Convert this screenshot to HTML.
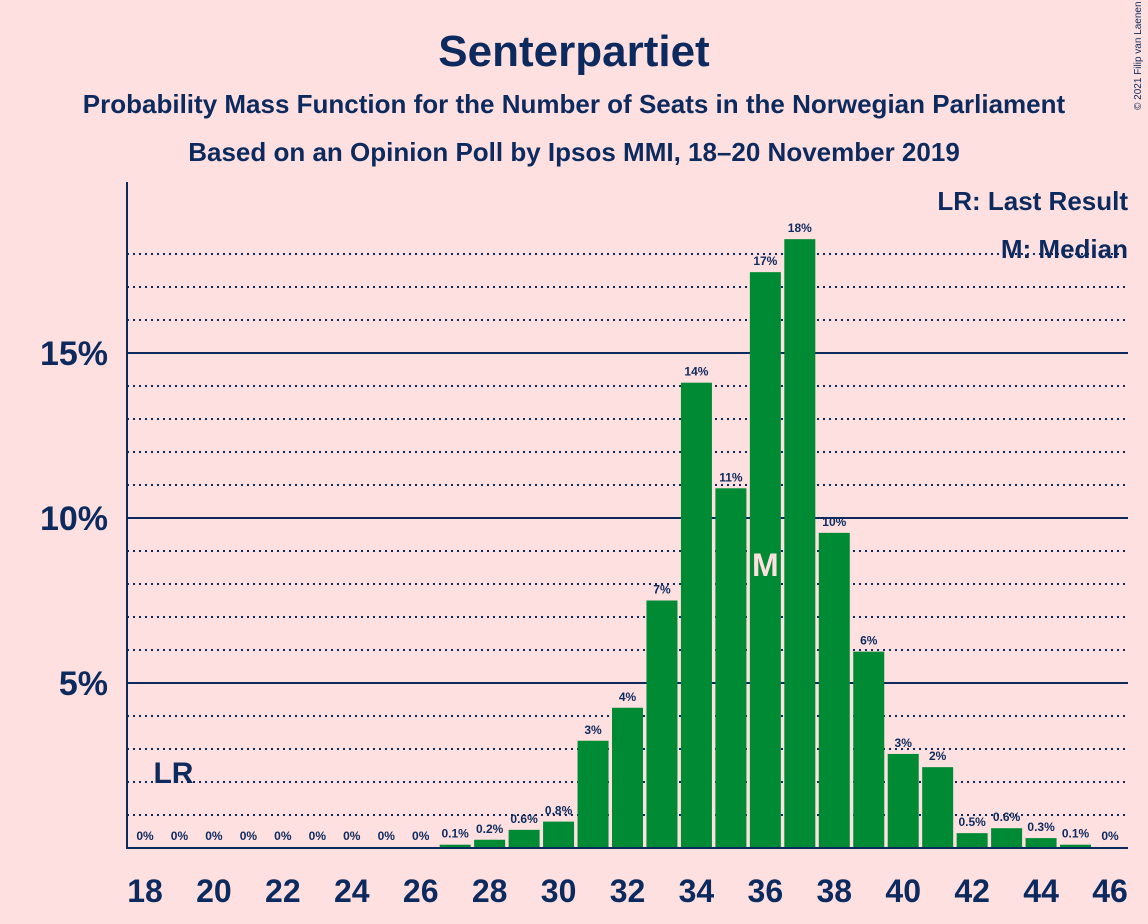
<!DOCTYPE html>
<html><head><meta charset="utf-8"><style>
body{margin:0;background:#FFE0E0;}
svg{display:block;font-family:"Liberation Sans",sans-serif;}
</style></head><body>
<svg id="c" width="1148" height="924">
<rect width="1148" height="924" fill="#FFE0E0"/>
<text x="574" y="66" text-anchor="middle" font-size="44" font-weight="bold" fill="#0C2A5E">Senterpartiet</text>
<text x="574" y="113" text-anchor="middle" font-size="26" font-weight="bold" fill="#0C2A5E">Probability Mass Function for the Number of Seats in the Norwegian Parliament</text>
<text x="574" y="161" text-anchor="middle" font-size="26" font-weight="bold" fill="#0C2A5E">Based on an Opinion Poll by Ipsos MMI, 18–20 November 2019</text>
<text x="1141" y="110" font-size="10" fill="#0C2A5E" transform="rotate(-90 1141 110)">© 2021 Filip van Laenen</text>
<g id="grid"></g>
<g id="bars"></g>
<line x1="127" y1="182" x2="127" y2="849" stroke="#0C2A5E" stroke-width="2"/>
<line x1="127" y1="848" x2="1128" y2="848" stroke="#0C2A5E" stroke-width="2"/>
<g id="ticks"></g>
<text x="1128" y="210" text-anchor="end" font-size="26" font-weight="bold" fill="#0C2A5E">LR: Last Result</text>
<text x="1128" y="258" text-anchor="end" font-size="26" font-weight="bold" fill="#0C2A5E">M: Median</text>
</svg>
<script>
const seats=[18,19,20,21,22,23,24,25,26,27,28,29,30,31,32,33,34,35,36,37,38,39,40,41,42,43,44,45,46];
const probs=[0,0,0,0,0,0,0,0,0,0.1,0.25,0.55,0.8,3.25,4.25,7.5,14.1,10.9,17.45,18.45,9.55,5.95,2.85,2.45,0.45,0.6,0.3,0.1,0];
const labels=["0%","0%","0%","0%","0%","0%","0%","0%","0%","0.1%","0.2%","0.6%","0.8%","3%","4%","7%","14%","11%","17%","18%","10%","6%","3%","2%","0.5%","0.6%","0.3%","0.1%","0%"];
const yTicks=[5,10,15];
const xTicks=[18,20,22,24,26,28,30,32,34,36,38,40,42,44,46];
const lastResult=19, median=36;
const NS="http://www.w3.org/2000/svg";
const x=s=>145+(s-18)*(1110-145)/28;
const y=p=>848-p*33;
function mk(t,a,parent,txt){const e=document.createElementNS(NS,t);for(const k in a)e.setAttribute(k,a[k]);if(txt!==undefined)e.textContent=txt;document.getElementById(parent).appendChild(e);return e;}
for(let p=1;p<=18;p++){
  const solid=yTicks.includes(p);
  const l=mk('line',{x1:127,x2:1128,y1:y(p),y2:y(p),stroke:'#0C2A5E','stroke-width':2,'stroke-dasharray':solid?'none':'2 4'},'grid');
  
  
}
yTicks.forEach(v=>{
  const t=mk('text',{x:108,y:y(v)+12,'text-anchor':'end','font-size':34,'font-weight':'bold',fill:'#0C2A5E'},'ticks',v+'%');
  
  
});
xTicks.forEach(v=>{
  const t=mk('text',{x:x(v),y:902,'text-anchor':'middle','font-size':32,'font-weight':'bold',fill:'#0C2A5E'},'ticks',v);
  
  
});
seats.forEach((s,i)=>{
  const p=probs[i];
  if(p>0){
    const r=mk('rect',{x:x(s)-15.5,y:y(p),width:31,height:848-y(p),fill:'#008A33'},'bars');
    
    
  }
  const t=mk('text',{x:x(s),y:y(p)-7,'text-anchor':'middle','font-size':12,'font-weight':'bold',fill:'#0C2A5E'},'bars',labels[i]);
  if(p<=0.05)t.setAttribute('y',840);
  
  
});
const m=mk('text',{x:x(median),y:576,'text-anchor':'middle','font-size':32,'font-weight':'bold',fill:'#FFE0E0'},'bars','M');


const lr=mk('text',{x:x(lastResult)-6,y:783,'text-anchor':'middle','font-size':30,'font-weight':'bold',fill:'#0C2A5E'},'bars','LR');


</script>
</body></html>
